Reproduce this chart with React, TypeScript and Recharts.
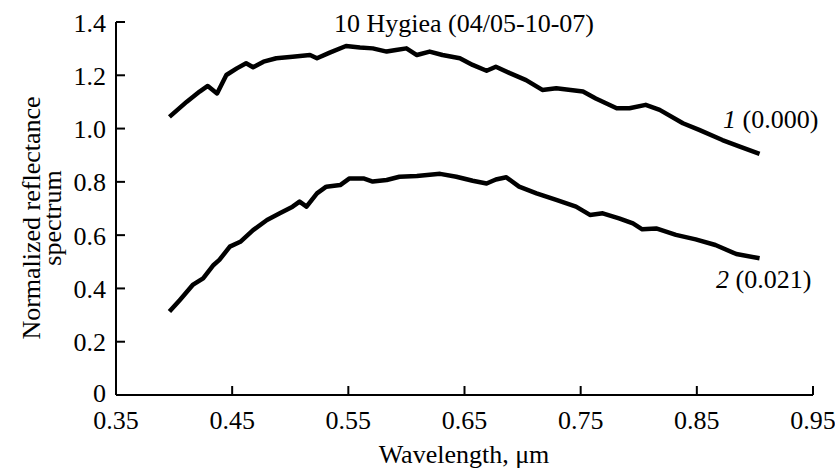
import { LineChart, Line, XAxis, YAxis } from "recharts";

// curve 1 (0.000)
const wavelength1 = [
  0.396, 0.411, 0.422, 0.429, 0.437, 0.445, 0.454, 0.462, 0.468, 0.477, 0.488,
  0.502, 0.517, 0.523, 0.534, 0.548, 0.56, 0.571, 0.583, 0.591, 0.6, 0.609,
  0.62, 0.631, 0.646, 0.657, 0.669, 0.677, 0.689, 0.703, 0.717, 0.729, 0.752,
  0.763, 0.781, 0.792, 0.806, 0.818, 0.838, 0.852, 0.872, 0.887, 0.904,
];
const reflectance1 = [
  1.044, 1.101, 1.139, 1.16, 1.132, 1.201, 1.226, 1.245, 1.23, 1.251, 1.264,
  1.27, 1.276, 1.264, 1.285, 1.31, 1.304, 1.301, 1.289, 1.295, 1.301, 1.276,
  1.289, 1.276, 1.264, 1.239, 1.217, 1.232, 1.208, 1.182, 1.145, 1.151, 1.139,
  1.113, 1.076, 1.076, 1.089, 1.07, 1.02, 0.995, 0.957, 0.932, 0.905,
];

// curve 2 (0.021)
const wavelength2 = [
  0.396, 0.405, 0.416, 0.425, 0.434, 0.439, 0.448, 0.457, 0.468, 0.48, 0.491,
  0.502, 0.508, 0.514, 0.523, 0.531, 0.543, 0.551, 0.563, 0.571, 0.583, 0.594,
  0.609, 0.629, 0.643, 0.657, 0.669, 0.677, 0.686, 0.697, 0.712, 0.729, 0.746,
  0.758, 0.769, 0.783, 0.795, 0.803, 0.815, 0.832, 0.849, 0.866, 0.884, 0.904,
];
const reflectance2 = [
  0.313, 0.357, 0.413, 0.438, 0.488, 0.507, 0.557, 0.575, 0.619, 0.657, 0.682,
  0.707, 0.726, 0.707, 0.757, 0.782, 0.788, 0.813, 0.813, 0.801, 0.807, 0.819,
  0.822, 0.83, 0.819, 0.804, 0.794, 0.809, 0.817, 0.782, 0.757, 0.732, 0.707,
  0.676, 0.682, 0.663, 0.644, 0.622, 0.625, 0.601, 0.584, 0.563, 0.529, 0.513,
];

const xTicks = [0.35, 0.45, 0.55, 0.65, 0.75, 0.85, 0.95];
const yTicks = [0, 0.2, 0.4, 0.6, 0.8, 1.0, 1.2, 1.4];

const FONT = "'Liberation Serif', 'Times New Roman', 'DejaVu Serif', serif";
const FS = 26;
const txt = { fontFamily: FONT, fontSize: FS, fill: "#000" };

const series1 = wavelength1.map((w, i) => ({ w, r: reflectance1[i] }));
const series2 = wavelength2.map((w, i) => ({ w, r: reflectance2[i] }));

function XTick({ x, y, payload }: any) {
  return (
    <g>
      <line x1={x} x2={x} y1={y} y2={y - 9} stroke="#000" strokeWidth={2} />
      <text x={x} y={y + 34} textAnchor="middle" style={txt}>
        {payload.value.toFixed(2)}
      </text>
    </g>
  );
}

function YTick({ x, y, payload }: any) {
  const v = payload.value;
  return (
    <g>
      <line x1={x} x2={x + 9} y1={y} y2={y} stroke="#000" strokeWidth={2} />
      <text x={x - 10} y={v === 0 ? y + 7 : y + 9.5} textAnchor="end" style={txt}>
        {v === 0 ? "0" : v.toFixed(1)}
      </text>
    </g>
  );
}

export default function App() {
  return (
    <div style={{ position: "absolute", left: 0, top: 0, width: 835, height: 470, background: "#fff" }}>
      <LineChart width={835} height={470} margin={{ top: 22, right: 22, left: 0, bottom: 0 }}>
        <XAxis
          dataKey="w"
          type="number"
          domain={[0.35, 0.95]}
          ticks={xTicks}
          allowDataOverflow
          height={75}
          tickSize={0}
          tickMargin={0}
          tick={<XTick />}
          axisLine={{ stroke: "#000", strokeWidth: 2 }}
        />
        <YAxis
          type="number"
          domain={[0, 1.4]}
          ticks={yTicks}
          width={116}
          tickSize={0}
          tickMargin={0}
          tick={<YTick />}
          axisLine={{ stroke: "#000", strokeWidth: 2 }}
        />
        <Line
          data={series1}
          dataKey="r"
          type="linear"
          dot={false}
          stroke="#000"
          strokeWidth={4.5}
          strokeLinejoin="round"
          isAnimationActive={false}
        />
        <Line
          data={series2}
          dataKey="r"
          type="linear"
          dot={false}
          stroke="#000"
          strokeWidth={4.5}
          strokeLinejoin="round"
          isAnimationActive={false}
        />
      </LineChart>
      <svg
        width={835}
        height={470}
        style={{ position: "absolute", left: 0, top: 0, pointerEvents: "none" }}
      >
        <text x={464} y={32} textAnchor="middle" style={txt}>10 Hygiea (04/05-10-07)</text>
        <text x={464} y={463} textAnchor="middle" style={txt}>Wavelength, μm</text>
        <text x={40} y={218} textAnchor="middle" transform="rotate(-90, 40, 218)" style={txt}>
          Normalized reflectance
        </text>
        <text x={61} y={218} textAnchor="middle" transform="rotate(-90, 61, 218)" style={txt}>
          spectrum
        </text>
        <text x={723} y={128} style={txt}>
          <tspan fontStyle="italic">1</tspan> (0.000)
        </text>
        <text x={716} y={288} style={txt}>
          <tspan fontStyle="italic">2</tspan> (0.021)
        </text>
      </svg>
    </div>
  );
}
